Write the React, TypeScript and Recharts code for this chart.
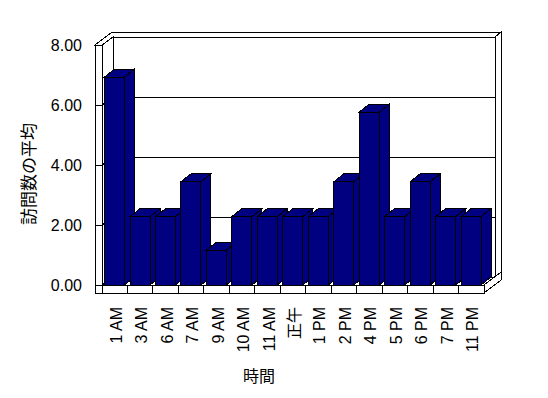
import { BarChart, Bar, XAxis, YAxis, CartesianGrid } from "recharts";

const hours = [
  "1 AM",
  "3 AM",
  "6 AM",
  "7 AM",
  "9 AM",
  "10 AM",
  "11 AM",
  "正午",
  "1 PM",
  "2 PM",
  "4 PM",
  "5 PM",
  "6 PM",
  "7 PM",
  "11 PM",
];
const avgVisits = [
  6.93, 2.28, 2.28, 3.44, 1.16, 2.28, 2.28, 2.28, 2.28, 3.44, 5.76, 2.28, 3.44,
  2.28, 2.28,
];
const yTicks = [0, 2, 4, 6, 8];
const yTitle = "訪問数の平均";
const xTitle = "時間";

const data = hours.map((hour, i) => ({ hour, visits: avgVisits[i] }));

const NAVY = "#000080";
const FONT = '"Liberation Sans", Arial, "Noto Sans CJK JP", sans-serif';

// fake 3D: depth offsets for walls / bars
const WALL_DX = 11;
const WALL_DY = 8;
const BACK_DX = 6;
const BACK_DY = 5;
const SLAB = 7;
const FLOOR = 8;
const BAR_DX = 10;
const BAR_DY = 8;

const pts = (list: number[][]) => list.map((q) => q.join(",")).join(" ");

function Walls({ L, T, R, B }: { L: number; T: number; R: number; B: number }) {
  const ox = WALL_DX + BACK_DX;
  const oy = WALL_DY + BACK_DY;
  return (
    <g fill="#fff" stroke="#000" strokeWidth={1} shapeRendering="crispEdges">
      <rect x={L + WALL_DX} y={T - WALL_DY} width={R - L} height={B - T} />
      <polygon
        points={pts([
          [L - SLAB, T],
          [L, T],
          [L + WALL_DX, T - WALL_DY],
          [R + WALL_DX, T - WALL_DY],
          [R + ox, T - oy],
          [L - SLAB + ox, T - oy],
        ])}
      />
      <polygon
        points={pts([
          [R + WALL_DX, T - WALL_DY],
          [R + ox, T - oy],
          [R + ox, B - oy],
          [R + WALL_DX, B - WALL_DY],
        ])}
      />
      <polygon
        points={pts([
          [L, T],
          [L + WALL_DX, T - WALL_DY],
          [L + WALL_DX, B - WALL_DY],
          [L, B],
        ])}
      />
      <rect x={L - SLAB} y={T} width={SLAB} height={B - T + FLOOR} />
      <polygon
        points={pts([
          [L, B],
          [R, B],
          [R + WALL_DX, B - WALL_DY],
          [L + WALL_DX, B - WALL_DY],
        ])}
      />
      <rect x={L} y={B} width={R - L} height={FLOOR} />
      <polygon
        points={pts([
          [R, B],
          [R + ox, B - oy],
          [R + ox, B - oy + FLOOR],
          [R, B + FLOOR],
        ])}
      />
    </g>
  );
}

function GridLine(props: any) {
  const { x, y, width, height, y1, index } = props;
  const L = x;
  const R = x + width;
  return (
    <g key={`h-${index}`}>
      {index === 0 && <Walls L={L} T={y} R={R} B={y + height} />}
      <polyline
        points={pts([
          [L - SLAB, y1],
          [L, y1],
          [L + WALL_DX, y1 - WALL_DY],
          [R + WALL_DX, y1 - WALL_DY],
        ])}
        fill="none"
        stroke="#000"
        strokeWidth={1}
        shapeRendering="crispEdges"
      />
    </g>
  );
}

// category separators on the front edge of the floor
function FloorTick(props: any) {
  const { x, y, width, height, x1, index } = props;
  const band = width / hours.length;
  const k = Math.floor((x1 - x) / band + 0.01);
  if (k + 1 >= hours.length) return <g key={`v-${index}`} />;
  const bx = x + (k + 1) * band;
  const B = y + height;
  return (
    <line
      key={`v-${index}`}
      x1={bx}
      y1={B}
      x2={bx}
      y2={B + FLOOR}
      stroke="#000"
      strokeWidth={1}
      shapeRendering="crispEdges"
    />
  );
}

function Bar3D(props: any) {
  const { x, y, width, height } = props;
  if (width == null || height == null) return null;
  const r = x + width;
  const b = y + height;
  return (
    <g stroke="#000" strokeWidth={1} fill={NAVY} shapeRendering="crispEdges">
      <polygon
        points={pts([
          [r, b],
          [r, y],
          [r + BAR_DX, y - BAR_DY],
          [r + BAR_DX, b - BAR_DY],
        ])}
      />
      <polygon
        points={pts([
          [x, y],
          [x + BAR_DX, y - BAR_DY],
          [r + BAR_DX, y - BAR_DY],
          [r, y],
        ])}
      />
      <rect x={x} y={y} width={width} height={height} />
    </g>
  );
}

function XTick(props: any) {
  const { x, y, payload } = props;
  const bx = x + 7;
  return (
    <text
      x={bx}
      y={y}
      transform={`rotate(-90, ${bx}, ${y})`}
      textAnchor="end"
      fontSize={16}
      fontFamily={FONT}
      fill="#000"
    >
      {payload.value}
    </text>
  );
}

function YTick(props: any) {
  const { x, y, payload } = props;
  return (
    <text
      x={x}
      y={y + 6}
      textAnchor="end"
      fontSize={16}
      fontFamily={FONT}
      fill="#000"
    >
      {Number(payload.value).toFixed(2)}
    </text>
  );
}

function YTitle(props: any) {
  const vb = props.viewBox || { x: 0, y: 45, width: 102, height: 240 };
  const cx = vb.x + 29;
  const cy = vb.y + vb.height / 2 + 9;
  return (
    <text
      x={cx}
      y={cy}
      transform={`rotate(-90, ${cx}, ${cy})`}
      textAnchor="middle"
      dominantBaseline="central"
      fontSize={17}
      fontFamily={FONT}
      fill="#000"
    >
      {yTitle}
    </text>
  );
}

function XTitle(props: any) {
  const vb = props.viewBox || { x: 102, y: 285, width: 382, height: 113 };
  const cx = vb.x + vb.width / 2 - 34;
  const cy = vb.y + 91;
  return (
    <text
      x={cx}
      y={cy}
      textAnchor="middle"
      dominantBaseline="central"
      fontSize={16}
      fontFamily={FONT}
      fill="#000"
    >
      {xTitle}
    </text>
  );
}

export default function App() {
  return (
    <div style={{ position: "absolute", left: 0, top: 0, background: "#fff" }}>
      <BarChart
        width={548}
        height={398}
        data={data}
        margin={{ top: 45, right: 64, bottom: 0, left: 0 }}
        barCategoryGap="10%"
      >
        <CartesianGrid horizontal={GridLine} vertical={FloorTick} stroke="#000" />
        <XAxis
          dataKey="hour"
          height={113}
          interval={0}
          axisLine={false}
          tickLine={false}
          tickSize={0}
          tickMargin={22}
          tick={XTick}
          label={{ content: XTitle }}
        />
        <YAxis
          width={102}
          domain={[0, 8]}
          ticks={yTicks}
          axisLine={false}
          tickLine={false}
          tickSize={0}
          tickMargin={20}
          tick={YTick}
          label={{ content: YTitle }}
        />
        <Bar dataKey="visits" shape={Bar3D} isAnimationActive={false} />
      </BarChart>
    </div>
  );
}
